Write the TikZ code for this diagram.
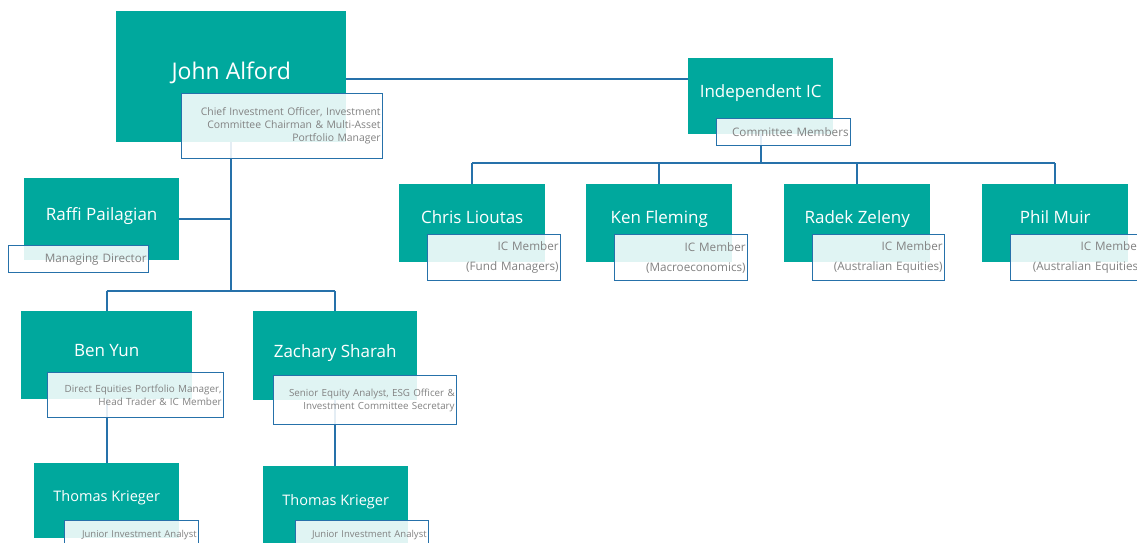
\documentclass[tikz,border=0pt]{standalone}
\usepackage{fontspec}
\setmainfont{Open Sans}
\usepackage{xcolor}
\definecolor{orgteal}{RGB}{0,168,157}
\definecolor{orgblue}{RGB}{38,113,170}
\definecolor{rolegray}{RGB}{130,130,130}
\tikzset{person/.style={fill=orgteal, anchor=north west, inner sep=0pt},
 pname/.style={text=white, inner sep=0pt, text height=0.72em, text depth=0pt},
 role/.style={draw=orgblue, line width=1.3pt, fill=white, fill opacity=0.88,
  text opacity=1, text=rolegray, anchor=north west, inner ysep=0pt,
  inner xsep=2pt, align=right},
 link/.style={draw=orgblue, line width=1.8pt},
 }

\begin{document}
\begin{tikzpicture}[x=1pt, y=-1pt]
        \useasboundingbox (0,0) rectangle (1137,543);
        \clip (0,0) rectangle (1137,543);
        % teal boxes
        \node[person, minimum width=230, minimum height=131] (john) at (116,11) {};
        \node[person, minimum width=145, minimum height=76] (indic) at (688,58) {};
        \node[person, minimum width=146, minimum height=78] (chris) at (399,184) {};
        \node[person, minimum width=146, minimum height=78] (ken) at (586,184) {};
        \node[person, minimum width=146, minimum height=78] (radek) at (784,184) {};
        \node[person, minimum width=146, minimum height=78] (phil) at (982,184) {};
        \node[person, minimum width=155, minimum height=82] (raffi) at (24,178) {};
        \node[person, minimum width=171, minimum height=88] (ben) at (21,311) {};
        \node[person, minimum width=164, minimum height=89] (zach) at (253,311) {};
        \node[person, minimum width=145, minimum height=75] (tkone) at (34,463) {};
        \node[person, minimum width=145, minimum height=77] (tktwo) at (263,466) {};
        % names
        \node[pname, font=\fontsize{23}{26}\selectfont] (johnname) at ([yshift=1pt]john.center) {John Alford};
        \node[pname, font=\fontsize{17}{20}\selectfont] (indicname) at ([yshift=2.5pt]indic.center) {Independent IC};
        \node[pname, font=\fontsize{17}{20}\selectfont] (chrisname) at ([yshift=3.5pt]chris.center) {Chris Lioutas};
        \node[pname, font=\fontsize{17}{20}\selectfont] (kenname) at ([yshift=3.5pt]ken.center) {Ken Fleming};
        \node[pname, font=\fontsize{17}{20}\selectfont] (radekname) at ([yshift=3.5pt]radek.center) {Radek Zeleny};
        \node[pname, font=\fontsize{17}{20}\selectfont] (philname) at ([yshift=3.5pt]phil.center) {Phil Muir};
        \node[pname, font=\fontsize{17}{20}\selectfont] (raffiname) at ([yshift=2pt]raffi.center) {Raffi Pailagian};
        \node[pname, font=\fontsize{17}{20}\selectfont] (benname) at ([yshift=2pt]ben.center) {Ben Yun};
        \node[pname, font=\fontsize{17}{20}\selectfont] (zachname) at ([yshift=2pt]zach.center) {Zachary Sharah};
        \node[pname, font=\fontsize{14.5}{17}\selectfont] (tkonename) at ([yshift=2.5pt]tkone.center) {Thomas Krieger};
        \node[pname, font=\fontsize{14.5}{17}\selectfont] (tktwoname) at ([yshift=2.5pt]tktwo.center) {Thomas Krieger};
        % connectors
        \coordinate (icbus) at (0,163);
        \coordinate (leftbus) at (0,291);
        \draw[link] ([yshift=-2.5pt]john.east) -- ([yshift=-2.5pt]john.east -| indic.west);
        \draw[link] (indic.south) -- (indic.south |- icbus);
        \draw[link] (chris.north |- icbus) -- (phil.north |- icbus);
        \foreach \m in {chris,ken,radek,phil}
            \draw[link] (\m.north) -- (\m.north |- icbus);
        \draw[link] (john.south) -- (john.south |- leftbus);
        \draw[link] (raffi.east) -- (raffi.east -| john.south);
        \draw[link] (ben.north |- leftbus) -- (zach.north |- leftbus);
        \draw[link] (ben.north) -- (ben.north |- leftbus);
        \draw[link] (zach.north) -- (zach.north |- leftbus);
        \draw[link] (ben.south) -- (ben.south |- tkone.north);
        \draw[link] (zach.south) -- (zach.south |- tktwo.north);
        % role boxes
        \node[role, text width=197, minimum height=65, font=\fontsize{10.4}{13}\selectfont] (johnrole) at (181,93)
            {Chief Investment Officer, Investment\\Committee Chairman \& Multi-Asset\\Portfolio Manager};
        \node[role, text width=130, minimum height=27, font=\fontsize{11.7}{14}\selectfont] (indicrole) at (716,118) {Committee Members};
        \node[role, text width=129, minimum height=46, font=\fontsize{11.7}{20}\selectfont] (chrisrole) at (427,234) {IC Member\\(Fund Managers)};
        \node[role, text width=129, minimum height=46, font=\fontsize{11.7}{20}\selectfont] (kenrole) at (614,234) {IC Member\\(Macroeconomics)};
        \node[role, text width=128, minimum height=46, font=\fontsize{11.7}{20}\selectfont] (radekrole) at (812,234) {IC Member\\(Australian Equities)};
        \node[role, text width=129, minimum height=46, font=\fontsize{11.7}{20}\selectfont] (philrole) at (1010,234) {IC Member\\(Australian Equities)};
        \node[role, text width=136, minimum height=27, font=\fontsize{11.7}{14}\selectfont] (raffirole) at (8,245) {Managing Director};
        \node[role, text width=172, minimum height=45, font=\fontsize{9.9}{12.5}\selectfont] (benrole) at (47,372)
            {Direct Equities Portfolio Manager,\\Head Trader \& IC Member};
        \node[role, text width=179, minimum height=49, font=\fontsize{9.8}{13}\selectfont] (zachrole) at (273,375)
            {Senior Equity Analyst, ESG Officer \&\\Investment Committee Secretary};
        \node[role, text width=130, minimum height=28, font=\fontsize{9.5}{12}\selectfont] (tkonerole) at (64,520) {Junior Investment Analyst};
        \node[role, text width=129, minimum height=28, font=\fontsize{9.5}{12}\selectfont] (tktworole) at (295,520) {Junior Investment Analyst};
    \end{tikzpicture}
\end{document}
